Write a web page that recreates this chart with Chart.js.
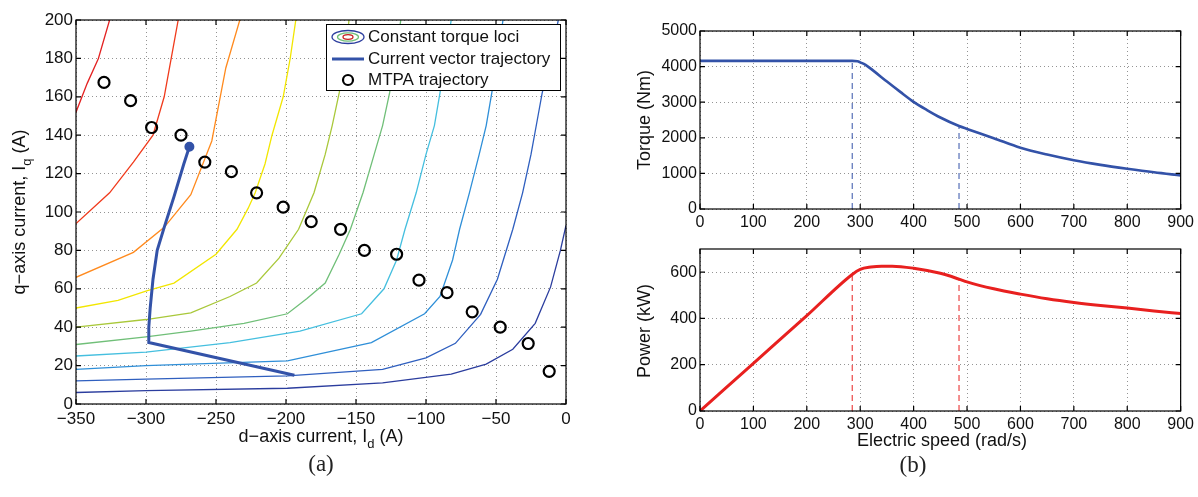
<!DOCTYPE html>
<html>
<head>
<meta charset="utf-8">
<script src="https://cdn.jsdelivr.net/npm/chart.js@4.4.1/dist/chart.umd.min.js"></script>
<style>
body { margin: 0; background: #fff; width: 1198px; height: 497px; overflow: hidden; position: relative; }
canvas { position: absolute; left: 0; top: 0; }
.cap { position: absolute; font-family: "Liberation Serif", "DejaVu Serif", serif; font-size: 23px; color: #222; transform: translate(-50%, -50%); }
</style>
</head>
<body>
<canvas id="chartA" width="1198" height="497"></canvas>
<canvas id="chartB" width="1198" height="497"></canvas>
<canvas id="chartC" width="1198" height="497"></canvas>
<div class="cap" style="left:321px;top:464px">(a)</div>
<div class="cap" style="left:913px;top:465px">(b)</div>
<script>
// (a) CONSTANT TORQUE LOCI, [Id, Iq] IN A (HIGH TORQUE -> LOW)
const locus1 = [[-350,152],[-342,167],[-334,180],[-326,200]];
const locus2 = [[-350,94],[-326,110],[-309,126],[-295,140],[-287,160],[-282,180],[-277,200]];
const locus3 = [[-350,66],[-309,79],[-287,92],[-268,109],[-253,137],[-243,175],[-233,200]];
const locus4 = [[-350,50],[-320,54],[-299,59],[-280,63],[-250,78],[-235,91],[-227,102],[-222,110],[-215,125],[-210,140],[-202,160],[-197,180],[-193,200]];
const locus5 = [[-350,40],[-300,44],[-268,47.5],[-240,56],[-221,63],[-205,76],[-191,91],[-180,110],[-172,130],[-167,145],[-162,162],[-158,180],[-155,200]];
const locus6 = [[-350,31],[-300,35],[-268,38],[-230,42],[-199,47],[-185,55],[-172,63],[-162,78],[-154,91],[-145,110],[-137,130],[-131,145],[-126,162],[-122,180],[-118,200]];
const locus7 = [[-350,25],[-300,27],[-240,32],[-190,38],[-146,47],[-130,60],[-121,75],[-115,91],[-107,110],[-100,130],[-94,145],[-90,162],[-86,180],[-82,200]];
const locus8 = [[-350,18],[-300,20],[-199,22.5],[-139,32],[-101,47],[-90,56],[-81,75],[-76,91],[-69,110],[-62,130],[-57,145],[-53,162],[-49,180],[-45,200]];
const locus9 = [[-350,12],[-300,13],[-199,14.7],[-131,18],[-100,24],[-79,31.6],[-61,46.7],[-49,65],[-38,91],[-31,110],[-25,130],[-20,150],[-17,162],[-11,180],[-5.5,200]];
const locus10 = [[-350,6],[-300,7],[-199,8.2],[-131,11],[-82,15.6],[-57,20.8],[-38,28.5],[-22,42],[-11,61],[-4,80],[0,93]];
const loci = [locus1, locus2, locus3, locus4, locus5, locus6, locus7, locus8, locus9, locus10];
const lociColors = ['#e32222', '#f03a1c', '#ff8a1e', '#f2e600', '#a9c83a', '#70bf78', '#45bfdf', '#2f8fd8', '#2f5fbf', '#2b3d9e'];

// CURRENT VECTOR TRAJECTORY
const trajId = [-269, -273, -280, -287, -292, -295, -297, -298, -298, -194];
const trajIq = [134, 125, 108, 92, 80, 65, 50, 40, 32, 15];

// MTPA TRAJECTORY
const mtpaId = [-330, -311, -296, -275, -258, -239, -221, -202, -182, -161, -144, -121, -105, -85, -67, -47, -27, -12];
const mtpaIq = [167.5, 158, 144, 140, 126, 121, 110, 102.5, 95, 91, 80, 78, 64.5, 58, 48, 40, 31.5, 17];

// (b) TORQUE AND POWER VS ELECTRIC SPEED
const speedT = [0, 100, 200, 285, 295, 300, 310, 325, 350, 375, 400, 425, 450, 485, 500, 550, 600, 650, 700, 750, 800, 850, 900];
const torque = [4160, 4160, 4160, 4160, 4150, 4120, 4050, 3880, 3580, 3290, 3010, 2780, 2570, 2330, 2250, 1990, 1720, 1530, 1370, 1240, 1130, 1030, 945];
const speedP = [0, 100, 200, 285, 300, 320, 340, 360, 400, 450, 485, 500, 550, 600, 650, 700, 750, 800, 850, 900];
const power = [0, 206, 412, 590, 612, 622, 626, 626, 617, 595, 570, 558, 528, 505, 485, 469, 456, 445, 432, 421];
const cornerSpeed = [285, 485];
const cornerTorque = [4160, 2330];
const cornerPower = [590, 570];


Chart.defaults.font.family = '"Liberation Sans", Arial, sans-serif';
Chart.defaults.color = '#111';

function xy(xs, ys) {
  let out = [];
  for (let i = 0; i < xs.length; i++) out.push({ x: xs[i], y: ys[i] });
  return out;
}

// MATLAB STYLE LABELS: TRUE MINUS SIGN, NO THOUSANDS SEPARATOR
function plainLabel(v) {
  return v < 0 ? '\u2212' + Math.abs(v) : String(v);
}

// BOX + INWARD TICKS, MATLAB STYLE
const frame = {
  id: 'frame',
  afterDatasetsDraw(chart) {
    const ctx = chart.ctx, a = chart.chartArea, sx = chart.scales.x, sy = chart.scales.y;
    ctx.save();
    ctx.strokeStyle = '#000';
    ctx.lineWidth = 1.2;
    ctx.beginPath();
    sx.ticks.forEach(t => {
      const p = sx.getPixelForValue(t.value);
      ctx.moveTo(p, a.bottom); ctx.lineTo(p, a.bottom - 5);
      ctx.moveTo(p, a.top); ctx.lineTo(p, a.top + 5);
    });
    sy.ticks.forEach(t => {
      const p = sy.getPixelForValue(t.value);
      ctx.moveTo(a.left, p); ctx.lineTo(a.left + 5, p);
      ctx.moveTo(a.right, p); ctx.lineTo(a.right - 5, p);
    });
    ctx.stroke();
    ctx.strokeRect(a.left, a.top, a.right - a.left, a.bottom - a.top);
    ctx.restore();
  }
};

// AXIS TITLES WITH SUBSCRIPTS
const axisText = {
  id: 'axisText',
  afterDraw(chart, args, opts) {
    const ctx = chart.ctx;
    (opts.items || []).forEach(it => {
      ctx.save();
      ctx.translate(it.x, it.y);
      if (it.rot) ctx.rotate(-Math.PI / 2);
      ctx.fillStyle = '#111';
      ctx.textBaseline = 'middle';
      ctx.textAlign = 'left';
      let w = 0;
      it.parts.forEach(p => {
        ctx.font = (p[1] ? 13 : 18) + 'px "Liberation Sans"';
        w += ctx.measureText(p[0]).width;
      });
      let cx = -w / 2;
      it.parts.forEach(p => {
        ctx.font = (p[1] ? 13 : 18) + 'px "Liberation Sans"';
        ctx.fillText(p[0], cx, p[1] ? 7 : 0);
        cx += ctx.measureText(p[0]).width;
      });
      ctx.restore();
    });
  }
};

// LEGEND OF CHART (a)
const legendA = {
  id: 'legendA',
  afterDraw(chart) {
    const ctx = chart.ctx;
    ctx.save();
    ctx.fillStyle = '#fff';
    ctx.fillRect(326, 24, 235, 67);
    ctx.strokeStyle = '#000';
    ctx.lineWidth = 1;
    ctx.strokeRect(326.5, 24.5, 234, 66);
    [[16, 6.5, '#2b3d9e'], [10.5, 4.2, '#70bf78'], [5, 2.3, '#c81e1e']].forEach(e => {
      ctx.beginPath();
      ctx.strokeStyle = e[2];
      ctx.lineWidth = 1.3;
      ctx.ellipse(348, 37, e[0], e[1], 0, 0, 2 * Math.PI);
      ctx.stroke();
    });
    ctx.beginPath();
    ctx.strokeStyle = '#3352a8';
    ctx.lineWidth = 3;
    ctx.moveTo(332, 59); ctx.lineTo(364, 59);
    ctx.stroke();
    ctx.beginPath();
    ctx.strokeStyle = '#000';
    ctx.lineWidth = 2.2;
    ctx.arc(348, 80, 5, 0, 2 * Math.PI);
    ctx.stroke();
    ctx.fillStyle = '#111';
    ctx.font = '17px "Liberation Sans"';
    ctx.textBaseline = 'middle';
    ctx.fillText('Constant torque loci', 368, 37);
    ctx.fillText('Current vector trajectory', 368, 59);
    ctx.fillText('MTPA trajectory', 368, 80);
    ctx.restore();
  }
};

const gridOpt = { color: 'rgba(0,0,0,0.42)', lineWidth: 1, drawTicks: false };
const borderOpt = { display: false, dash: [1, 3] };


// CHART (a)

let datasetsA = [{
  data: xy(mtpaId, mtpaIq),
  showLine: false,
  pointRadius: 5.5,
  pointBorderWidth: 2.2,
  pointBorderColor: '#000',
  pointBackgroundColor: 'rgba(0,0,0,0)',
  order: 0
}, {
  data: xy(trajId, trajIq),
  showLine: true,
  borderColor: '#3352a8',
  borderWidth: 3,
  pointRadius: trajId.map((v, i) => i === 0 ? 3.5 : 0),
  pointBackgroundColor: '#3352a8',
  pointBorderColor: '#3352a8',
  order: 1
}];
loci.forEach((l, i) => {
  datasetsA.push({
    data: l.map(p => ({ x: p[0], y: p[1] })),
    showLine: true,
    borderColor: lociColors[i],
    borderWidth: 1.3,
    pointRadius: 0,
    tension: 0,
    order: 2
  });
});

new Chart(document.getElementById('chartA'), {
  type: 'scatter',
  data: { datasets: datasetsA },
  options: {
    responsive: false,
    animation: false,
    events: [],
    layout: { padding: { left: 0, right: 632, top: 20, bottom: 63 } },
    plugins: {
      legend: { display: false },
      tooltip: { enabled: false },
      axisText: { items: [
        { x: 20, y: 212, rot: true, parts: [['q\u2212axis current, I', 0], ['q', 1], [' (A)', 0]] },
        { x: 321, y: 437, parts: [['d\u2212axis current, I', 0], ['d', 1], [' (A)', 0]] }
      ] }
    },
    scales: {
      x: {
        type: 'linear', min: -350, max: 0,
        ticks: { stepSize: 50, padding: 5, font: { size: 17 }, maxRotation: 0, callback: plainLabel },
        grid: gridOpt, border: borderOpt,
        afterFit: s => { s.height = 30; }
      },
      y: {
        type: 'linear', min: 0, max: 200,
        ticks: { stepSize: 20, padding: 3, font: { size: 17 }, callback: plainLabel },
        grid: gridOpt, border: borderOpt,
        afterFit: s => { s.width = 76; }
      }
    }
  },
  plugins: [frame, axisText, legendA]
});


// CHART (b) TOP: TORQUE

new Chart(document.getElementById('chartB'), {
  type: 'scatter',
  data: {
    datasets: [{
      data: xy(speedT, torque),
      showLine: true,
      borderColor: '#3352a8',
      borderWidth: 2.6,
      pointRadius: 0,
      cubicInterpolationMode: 'monotone'
    }, {
      data: [{ x: cornerSpeed[0], y: 0 }, { x: cornerSpeed[0], y: cornerTorque[0] }],
      showLine: true, borderColor: '#3352a8', borderWidth: 1, borderDash: [6, 4], pointRadius: 0
    }, {
      data: [{ x: cornerSpeed[1], y: 0 }, { x: cornerSpeed[1], y: cornerTorque[1] }],
      showLine: true, borderColor: '#3352a8', borderWidth: 1, borderDash: [6, 4], pointRadius: 0
    }]
  },
  options: {
    responsive: false,
    animation: false,
    events: [],
    layout: { padding: { left: 600, right: 14, top: 31, bottom: 258 } },
    plugins: {
      legend: { display: false },
      tooltip: { enabled: false },
      axisText: { items: [
        { x: 645, y: 120, rot: true, parts: [['Torque (Nm)', 0]] }
      ] }
    },
    scales: {
      x: {
        type: 'linear', min: 0, max: 900,
        ticks: { stepSize: 100, padding: 4, font: { size: 16 }, maxRotation: 0, callback: plainLabel },
        grid: gridOpt, border: borderOpt,
        afterFit: s => { s.height = 30; }
      },
      y: {
        type: 'linear', min: 0, max: 5000,
        ticks: { stepSize: 1000, padding: 3, font: { size: 16 }, callback: plainLabel },
        grid: gridOpt, border: borderOpt,
        afterFit: s => { s.width = 100; }
      }
    }
  },
  plugins: [frame, axisText]
});


// CHART (b) BOTTOM: POWER

new Chart(document.getElementById('chartC'), {
  type: 'scatter',
  data: {
    datasets: [{
      data: xy(speedP, power),
      showLine: true,
      borderColor: '#e8201f',
      borderWidth: 3,
      pointRadius: 0,
      cubicInterpolationMode: 'monotone'
    }, {
      data: [{ x: cornerSpeed[0], y: 0 }, { x: cornerSpeed[0], y: cornerPower[0] }],
      showLine: true, borderColor: '#e8201f', borderWidth: 1, borderDash: [6, 4], pointRadius: 0
    }, {
      data: [{ x: cornerSpeed[1], y: 0 }, { x: cornerSpeed[1], y: cornerPower[1] }],
      showLine: true, borderColor: '#e8201f', borderWidth: 1, borderDash: [6, 4], pointRadius: 0
    }]
  },
  options: {
    responsive: false,
    animation: false,
    events: [],
    layout: { padding: { left: 600, right: 14, top: 249, bottom: 56 } },
    plugins: {
      legend: { display: false },
      tooltip: { enabled: false },
      axisText: { items: [
        { x: 645, y: 331, rot: true, parts: [['Power (kW)', 0]] },
        { x: 942, y: 441, parts: [['Electric speed (rad/s)', 0]] }
      ] }
    },
    scales: {
      x: {
        type: 'linear', min: 0, max: 900,
        ticks: { stepSize: 100, padding: 4, font: { size: 16 }, maxRotation: 0, callback: plainLabel },
        grid: gridOpt, border: borderOpt,
        afterFit: s => { s.height = 30; }
      },
      y: {
        type: 'linear', min: 0, max: 700,
        ticks: { stepSize: 200, padding: 3, font: { size: 16 }, includeBounds: false, callback: plainLabel },
        grid: gridOpt, border: borderOpt,
        afterFit: s => { s.width = 100; }
      }
    }
  },
  plugins: [frame, axisText]
});
</script>
</body>
</html>
